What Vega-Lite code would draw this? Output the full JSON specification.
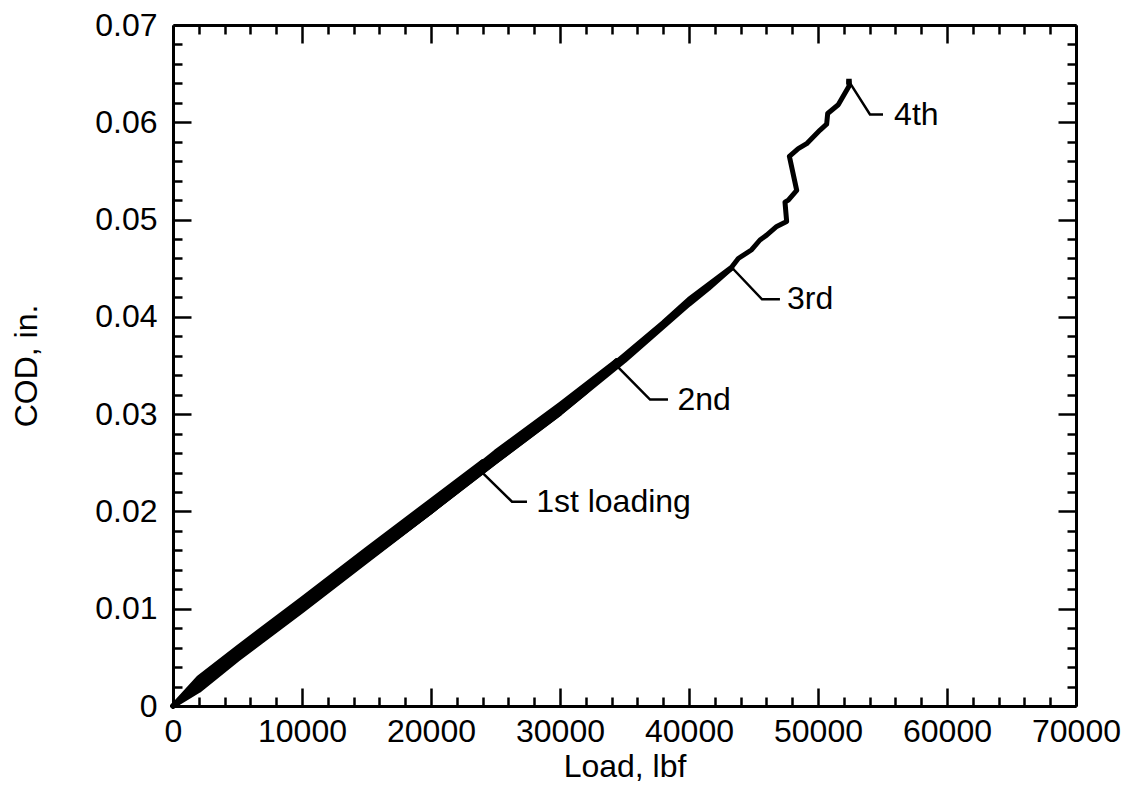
{
  "$schema": "https://vega.github.io/schema/vega-lite/v6.json",
  "width": 903,
  "height": 681,
  "autosize": {"type": "none"},
  "padding": {"left": 173, "top": 25, "right": 52, "bottom": 87},
  "background": "white",
  "config": {
    "view": {"stroke": null},
    "font": "Liberation Sans",
    "axis": {
      "labelFont": "Liberation Sans",
      "titleFont": "Liberation Sans",
      "labelColor": "black",
      "titleColor": "black",
      "tickColor": "black",
      "domainColor": "black",
      "grid": false,
      "labelFlush": false,
      "labelOverlap": false,
      "titleFontWeight": "normal"
    }
  },
  "datasets": {
    "curves": [
      {"run": "1 load", "order": 1, "load": 0, "cod": 0},
      {"run": "1 load", "order": 2, "load": 2000, "cod": 0.0029},
      {"run": "1 load", "order": 3, "load": 5000, "cod": 0.006},
      {"run": "1 load", "order": 4, "load": 10000, "cod": 0.011},
      {"run": "1 load", "order": 5, "load": 15000, "cod": 0.0161},
      {"run": "1 load", "order": 6, "load": 20000, "cod": 0.0211},
      {"run": "1 load", "order": 7, "load": 24000, "cod": 0.0251},
      {"run": "1 unload", "order": 1, "load": 24000, "cod": 0.0251},
      {"run": "1 unload", "order": 2, "load": 22000, "cod": 0.0221},
      {"run": "1 unload", "order": 3, "load": 20000, "cod": 0.02},
      {"run": "1 unload", "order": 4, "load": 15000, "cod": 0.0149},
      {"run": "1 unload", "order": 5, "load": 10000, "cod": 0.0098},
      {"run": "1 unload", "order": 6, "load": 5000, "cod": 0.0048},
      {"run": "1 unload", "order": 7, "load": 2000, "cod": 0.0016},
      {"run": "1 unload", "order": 8, "load": 0, "cod": 0},
      {"run": "2 load", "order": 1, "load": 0, "cod": 0},
      {"run": "2 load", "order": 2, "load": 2000, "cod": 0.0026},
      {"run": "2 load", "order": 3, "load": 5000, "cod": 0.0057},
      {"run": "2 load", "order": 4, "load": 10000, "cod": 0.0107},
      {"run": "2 load", "order": 5, "load": 15000, "cod": 0.0158},
      {"run": "2 load", "order": 6, "load": 20000, "cod": 0.0208},
      {"run": "2 load", "order": 7, "load": 25000, "cod": 0.0261},
      {"run": "2 load", "order": 8, "load": 30000, "cod": 0.031},
      {"run": "2 load", "order": 9, "load": 34400, "cod": 0.0355},
      {"run": "2 unload", "order": 1, "load": 34400, "cod": 0.0355},
      {"run": "2 unload", "order": 2, "load": 32000, "cod": 0.0323},
      {"run": "2 unload", "order": 3, "load": 30000, "cod": 0.0301},
      {"run": "2 unload", "order": 4, "load": 25000, "cod": 0.0251},
      {"run": "2 unload", "order": 5, "load": 20000, "cod": 0.02},
      {"run": "2 unload", "order": 6, "load": 15000, "cod": 0.015},
      {"run": "2 unload", "order": 7, "load": 10000, "cod": 0.0099},
      {"run": "2 unload", "order": 8, "load": 5000, "cod": 0.0049},
      {"run": "2 unload", "order": 9, "load": 0, "cod": 0},
      {"run": "3 load", "order": 1, "load": 0, "cod": 0},
      {"run": "3 load", "order": 2, "load": 2000, "cod": 0.0022},
      {"run": "3 load", "order": 3, "load": 5000, "cod": 0.0054},
      {"run": "3 load", "order": 4, "load": 10000, "cod": 0.0104},
      {"run": "3 load", "order": 5, "load": 15000, "cod": 0.0155},
      {"run": "3 load", "order": 6, "load": 20000, "cod": 0.0205},
      {"run": "3 load", "order": 7, "load": 25000, "cod": 0.0256},
      {"run": "3 load", "order": 8, "load": 30000, "cod": 0.0305},
      {"run": "3 load", "order": 9, "load": 34400, "cod": 0.0352},
      {"run": "3 load", "order": 10, "load": 38000, "cod": 0.0393},
      {"run": "3 load", "order": 11, "load": 40000, "cod": 0.0417},
      {"run": "3 load", "order": 12, "load": 43300, "cod": 0.045},
      {"run": "3 unload", "order": 1, "load": 43300, "cod": 0.045},
      {"run": "3 unload", "order": 2, "load": 41500, "cod": 0.0429},
      {"run": "3 unload", "order": 3, "load": 40000, "cod": 0.0413},
      {"run": "3 unload", "order": 4, "load": 35000, "cod": 0.0355},
      {"run": "3 unload", "order": 5, "load": 30000, "cod": 0.0301},
      {"run": "3 unload", "order": 6, "load": 25000, "cod": 0.0251},
      {"run": "3 unload", "order": 7, "load": 20000, "cod": 0.02},
      {"run": "3 unload", "order": 8, "load": 15000, "cod": 0.015},
      {"run": "3 unload", "order": 9, "load": 10000, "cod": 0.0099},
      {"run": "3 unload", "order": 10, "load": 5000, "cod": 0.0049},
      {"run": "3 unload", "order": 11, "load": 0, "cod": 0},
      {"run": "4 load", "order": 1, "load": 0, "cod": 0},
      {"run": "4 load", "order": 2, "load": 5000, "cod": 0.0055},
      {"run": "4 load", "order": 3, "load": 10000, "cod": 0.0105},
      {"run": "4 load", "order": 4, "load": 20000, "cod": 0.0206},
      {"run": "4 load", "order": 5, "load": 30000, "cod": 0.0307},
      {"run": "4 load", "order": 6, "load": 34400, "cod": 0.0354},
      {"run": "4 load", "order": 7, "load": 38000, "cod": 0.0394},
      {"run": "4 load", "order": 8, "load": 40000, "cod": 0.0418},
      {"run": "4 load", "order": 9, "load": 43300, "cod": 0.0451},
      {"run": "4 load", "order": 10, "load": 43820, "cod": 0.046},
      {"run": "4 load", "order": 11, "load": 44860, "cod": 0.0469},
      {"run": "4 load", "order": 12, "load": 45500, "cod": 0.0479},
      {"run": "4 load", "order": 13, "load": 46020, "cod": 0.0484},
      {"run": "4 load", "order": 14, "load": 46800, "cod": 0.0493},
      {"run": "4 load", "order": 15, "load": 47570, "cod": 0.0498},
      {"run": "4 load", "order": 16, "load": 47440, "cod": 0.0518},
      {"run": "4 load", "order": 17, "load": 47700, "cod": 0.052},
      {"run": "4 load", "order": 18, "load": 48350, "cod": 0.053},
      {"run": "4 load", "order": 19, "load": 47780, "cod": 0.0565},
      {"run": "4 load", "order": 20, "load": 48470, "cod": 0.0573},
      {"run": "4 load", "order": 21, "load": 49120, "cod": 0.0578},
      {"run": "4 load", "order": 22, "load": 50160, "cod": 0.0592},
      {"run": "4 load", "order": 23, "load": 50670, "cod": 0.0598},
      {"run": "4 load", "order": 24, "load": 50750, "cod": 0.0609},
      {"run": "4 load", "order": 25, "load": 51570, "cod": 0.0618},
      {"run": "4 load", "order": 26, "load": 52400, "cod": 0.0637},
      {"run": "4 load", "order": 27, "load": 52400, "cod": 0.0642}
    ],
    "leaders": [
      {"lab": "1st", "order": 1, "load": 23740, "cod": 0.0243},
      {"lab": "1st", "order": 2, "load": 26280, "cod": 0.021},
      {"lab": "1st", "order": 3, "load": 27440, "cod": 0.021},
      {"lab": "2nd", "order": 1, "load": 34440, "cod": 0.0349},
      {"lab": "2nd", "order": 2, "load": 36980, "cod": 0.0315},
      {"lab": "2nd", "order": 3, "load": 38370, "cod": 0.0315},
      {"lab": "3rd", "order": 1, "load": 43300, "cod": 0.0451},
      {"lab": "3rd", "order": 2, "load": 45660, "cod": 0.0418},
      {"lab": "3rd", "order": 3, "load": 47050, "cod": 0.0418},
      {"lab": "4th", "order": 1, "load": 52400, "cod": 0.0642},
      {"lab": "4th", "order": 2, "load": 54030, "cod": 0.0608},
      {"lab": "4th", "order": 3, "load": 55040, "cod": 0.0608}
    ],
    "labels": [
      {"text": "1st loading", "load": 28150, "cod": 0.021},
      {"text": "2nd", "load": 39100, "cod": 0.0315},
      {"text": "3rd", "load": 47600, "cod": 0.0418},
      {"text": "4th", "load": 55900, "cod": 0.0608}
    ],
    "peak": [
      {"load": 52400, "cod": 0.0642}
    ]
  },
  "resolve": {"axis": {"x": "independent", "y": "independent"}},
  "layer": [
    {
      "data": {"name": "curves"},
      "mark": {"type": "line", "color": "black", "strokeWidth": 5, "strokeJoin": "round", "strokeCap": "round"},
      "encoding": {
        "x": {"field": "load", "type": "quantitative",
          "scale": {"domain": [0, 70000], "nice": false, "zero": false},
          "axis": {"orient": "bottom", "values": [0, 10000, 20000, 30000, 40000, 50000, 60000, 70000], "format": "d",
            "title": "Load, lbf", "labelFontSize": 32, "titleFontSize": 32, "tickSize": -18, "tickWidth": 2.5,
            "domainWidth": 3, "labelPadding": 28, "titlePadding": 4}},
        "y": {"field": "cod", "type": "quantitative",
          "scale": {"domain": [0, 0.07], "nice": false, "zero": false},
          "axis": {"orient": "left", "values": [0, 0.01, 0.02, 0.03, 0.04, 0.05, 0.06, 0.07], "labelExpr": "datum.value == 0 ? '0' : format(datum.value, '.2f')",
            "title": "COD, in.", "labelFontSize": 32, "titleFontSize": 32, "tickSize": -18, "tickWidth": 2.5,
            "domainWidth": 3, "labelPadding": 34, "titlePadding": 51}},
        "detail": {"field": "run"},
        "order": {"field": "order", "type": "quantitative"}
      }
    },
    {
      "data": {"name": "leaders"},
      "mark": {"type": "line", "color": "black", "strokeWidth": 2.5},
      "encoding": {
        "x": {"field": "load", "type": "quantitative",
          "scale": {"domain": [0, 70000], "nice": false, "zero": false},
          "axis": {"orient": "top", "values": [0, 10000, 20000, 30000, 40000, 50000, 60000, 70000],
            "labels": false, "title": null, "tickSize": -18, "tickWidth": 2.5, "domainWidth": 3}},
        "y": {"field": "cod", "type": "quantitative",
          "scale": {"domain": [0, 0.07], "nice": false, "zero": false},
          "axis": {"orient": "right", "values": [0, 0.01, 0.02, 0.03, 0.04, 0.05, 0.06, 0.07],
            "labels": false, "title": null, "tickSize": -18, "tickWidth": 2.5, "domainWidth": 3}},
        "detail": {"field": "lab"},
        "order": {"field": "order", "type": "quantitative"}
      }
    },
    {
      "data": {"name": "labels"},
      "mark": {"type": "text", "align": "left", "baseline": "middle", "fontSize": 32, "font": "Liberation Sans", "color": "black"},
      "encoding": {
        "x": {"field": "load", "type": "quantitative",
          "scale": {"domain": [0, 70000], "nice": false, "zero": false},
          "axis": {"orient": "bottom", "values": [2000, 4000, 6000, 8000, 12000, 14000, 16000, 18000, 22000, 24000, 26000, 28000, 32000, 34000, 36000, 38000, 42000, 44000, 46000, 48000, 52000, 54000, 56000, 58000, 62000, 64000, 66000, 68000],
            "labels": false, "title": null, "domain": false, "tickSize": -9, "tickWidth": 2.5}},
        "y": {"field": "cod", "type": "quantitative",
          "scale": {"domain": [0, 0.07], "nice": false, "zero": false},
          "axis": {"orient": "left", "values": [0.002, 0.004, 0.006, 0.008, 0.012, 0.014, 0.016, 0.018, 0.022, 0.024, 0.026, 0.028, 0.032, 0.034, 0.036, 0.038, 0.042, 0.044, 0.046, 0.048, 0.052, 0.054, 0.056, 0.058, 0.062, 0.064, 0.066, 0.068],
            "labels": false, "title": null, "domain": false, "tickSize": -9, "tickWidth": 2.5}},
        "text": {"field": "text"}
      }
    },
    {
      "data": {"name": "peak"},
      "mark": {"type": "point", "shape": "square", "size": 16, "filled": false, "color": "black", "strokeWidth": 1.5, "opacity": 1},
      "encoding": {
        "x": {"field": "load", "type": "quantitative",
          "scale": {"domain": [0, 70000], "nice": false, "zero": false},
          "axis": {"orient": "top", "values": [2000, 4000, 6000, 8000, 12000, 14000, 16000, 18000, 22000, 24000, 26000, 28000, 32000, 34000, 36000, 38000, 42000, 44000, 46000, 48000, 52000, 54000, 56000, 58000, 62000, 64000, 66000, 68000],
            "labels": false, "title": null, "domain": false, "tickSize": -9, "tickWidth": 2.5}},
        "y": {"field": "cod", "type": "quantitative",
          "scale": {"domain": [0, 0.07], "nice": false, "zero": false},
          "axis": {"orient": "right", "values": [0.002, 0.004, 0.006, 0.008, 0.012, 0.014, 0.016, 0.018, 0.022, 0.024, 0.026, 0.028, 0.032, 0.034, 0.036, 0.038, 0.042, 0.044, 0.046, 0.048, 0.052, 0.054, 0.056, 0.058, 0.062, 0.064, 0.066, 0.068],
            "labels": false, "title": null, "domain": false, "tickSize": -9, "tickWidth": 2.5}}
      }
    }
  ]
}
